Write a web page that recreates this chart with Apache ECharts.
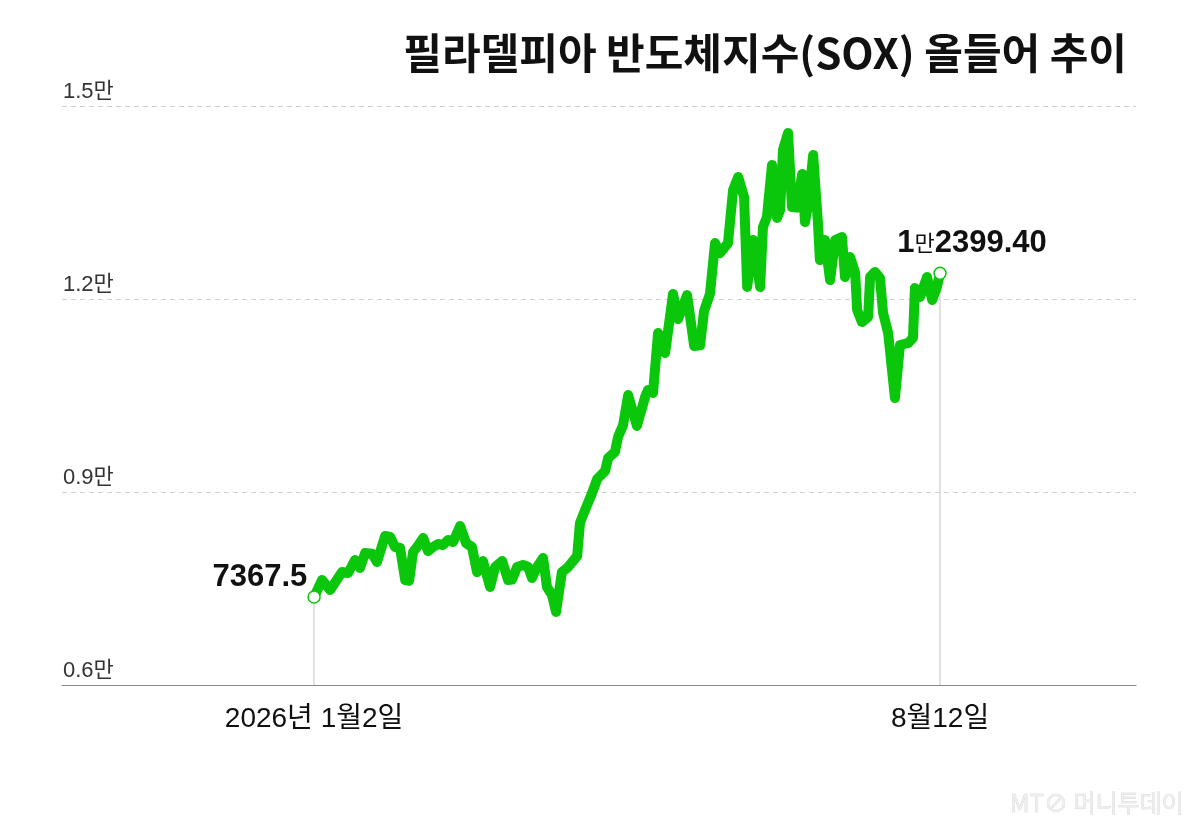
<!DOCTYPE html>
<html>
<head>
<meta charset="utf-8">
<script src="https://cdn.jsdelivr.net/npm/echarts@6/dist/echarts.min.js"></script>
<style>
html,body{margin:0;padding:0;background:#fff;}
#chart{width:1200px;height:827px;}
</style>
</head>
<body>
<div id="chart"></div>
<script>
// Days since 2026-01-02
var dayOffsets = [0,2.8,5.7,9.9,12.1,14.5,16.3,18.1,20.6,22.3,25.2,27.0,28.7,30.5,32.3,33.7,35.1,36.5,38.7,40.4,42.2,44.0,45.7,47.5,49.3,51.8,53.9,56.0,57.8,59.9,62.4,64.2,66.7,68.8,70.2,72.0,74.1,75.9,77.3,79.1,81.2,82.6,84.4,85.8,87.9,90.1,93.3,94.3,96.1,98.6,100.4,103.2,104.3,106.7,107.8,109.6,111.4,114.5,117.4,118.4,120.2,122.0,124.5,127.3,129.1,132.3,134.8,136.9,138.3,140.4,142.2,144.0,146.8,148.6,150.4,152.5,153.6,155.7,158.2,159.2,160.6,162.4,164.2,165.3,166.3,168.1,169.5,171.3,173.1,174.1,175.2,177.0,178.7,179.4,181.2,183.0,184.8,187.2,188.3,190.1,191.9,192.6,194.3,196.5,197.2,198.9,200.7,201.8,203.6,206.0,207.8,210.7,212.4,213.1,214.9,217.4,219.2,220.9,222.0];
var soxValues = [7367.5,7632,7477,7756,7741,7943,7819,8052,8040,7912,8316,8301,8145,8130,7632,7620,8067,8145,8285,8083,8145,8192,8176,8254,8223,8471,8207,8145,7756,7927,7523,7834,7927,7632,7640,7834,7865,7834,7663,7834,7974,7523,7399,7135,7756,7834,8005,8518,8720,8984,9202,9326,9528,9622,9855,10041,10508,10026,10477,10585,10539,11471,11161,12078,11689,12060,11269,11280,11813,12078,12870,12715,12870,13694,13896,13585,12187,12917,12187,13119,13275,14083,13259,13383,14316,14580,13430,13420,13943,13197,13461,14238,13181,12606,12917,12295,12917,12964,12342,12653,12404,11829,11642,11720,12342,12420,12326,11782,11471,10461,11285,11316,11394,12171,12031,12342,11984,12187,12399.4];
var xTickValues = [0, 222];
var xTickLabels = ['2026년 1월2일', '8월12일'];
var yTicks = [6000, 9000, 12000, 15000];
var titleText = '필라델피아 반도체지수(SOX) 올들어 추이';
var startLabel = '7367.5';
var endLabelParts = ['1', '만', '2399.40'];

var seriesData = dayOffsets.map(function(d, i){ return [d, soxValues[i]]; });
var first = seriesData[0], last = seriesData[seriesData.length-1];

var numFont = "'Liberation Sans', 'Noto Sans CJK KR', sans-serif";
var green = '#0bc70b';

var chart = echarts.init(document.getElementById('chart'));
chart.setOption({
  animation: false,
  backgroundColor: '#fff',
  title: {
    text: titleText,
    right: 68, top: 27,
    textStyle: { fontFamily: "'Noto Sans CJK KR', sans-serif", fontWeight: 'bold', fontSize: 42, color: '#111' }
  },
  grid: { left: 62, right: 64, top: 106, bottom: 142 },
  xAxis: {
    type: 'value',
    min: -89.4, max: 291.5,
    axisLine: { show: true, lineStyle: { color: '#8a8a8a', width: 1.2 } },
    axisTick: { show: false },
    splitLine: { show: false },
    axisLabel: {
      customValues: xTickValues,
      margin: 20,
      fontFamily: numFont, fontSize: 28, color: '#111',
      formatter: function(v){ var i = xTickValues.indexOf(v); return i >= 0 ? xTickLabels[i] : ''; }
    }
  },
  yAxis: {
    type: 'value',
    min: yTicks[0], max: yTicks[yTicks.length-1], interval: 3000,
    axisLine: { show: false },
    axisTick: { show: false },
    splitLine: { show: true, lineStyle: { color: '#d0d0d0', type: [5, 4], width: 1 } },
    axisLabel: {
      inside: true, margin: 1,
      align: 'left', verticalAlign: 'bottom',
      padding: [0, 0, 3, 0],
      fontFamily: numFont, fontSize: 22, color: '#333',
      formatter: function(v){ return (v/10000) + '만'; }
    }
  },
  series: [{
    type: 'line',
    data: seriesData,
    symbol: 'none',
    lineStyle: { color: green, width: 10, cap: 'round', join: 'round' },
    z: 3,
    markLine: {
      silent: true, symbol: 'none', z: 1,
      lineStyle: { color: '#d6d6d6', type: 'solid', width: 1.5 },
      label: { show: false },
      data: [
        [{ coord: [first[0], first[1]] }, { coord: [first[0], yTicks[0]] }],
        [{ coord: [last[0], last[1]] }, { coord: [last[0], yTicks[0]] }]
      ]
    },
    markPoint: {
      symbol: 'circle', symbolSize: 12, z: 5,
      itemStyle: { color: '#fff', borderColor: green, borderWidth: 1.5 },
      data: [
        { coord: first, label: { show: true, position: 'left', distance: 0, offset: [0, -20], formatter: startLabel,
          fontFamily: numFont, fontWeight: 'bold', fontSize: 31, color: '#111' } },
        { coord: last, label: { show: true, position: 'top', distance: 8, offset: [32, 0],
          formatter: '{a|' + endLabelParts[0] + '}{b|' + endLabelParts[1] + '}{a|' + endLabelParts[2] + '}',
          rich: {
            a: { fontFamily: numFont, fontWeight: 'bold', fontSize: 31, color: '#111' },
            b: { fontFamily: "'Noto Sans CJK KR', sans-serif", fontSize: 22, color: '#111' }
          } } }
      ]
    }
  }],
  graphic: [{
    type: 'text', right: 16, bottom: 12,
    style: { text: 'MT⊘ 머니투데이', fill: '#eeeeee', stroke: '#cfcfcf', lineWidth: 0.6,
      font: "24px 'Noto Sans CJK KR', sans-serif" }
  }]
});
</script>
</body>
</html>
